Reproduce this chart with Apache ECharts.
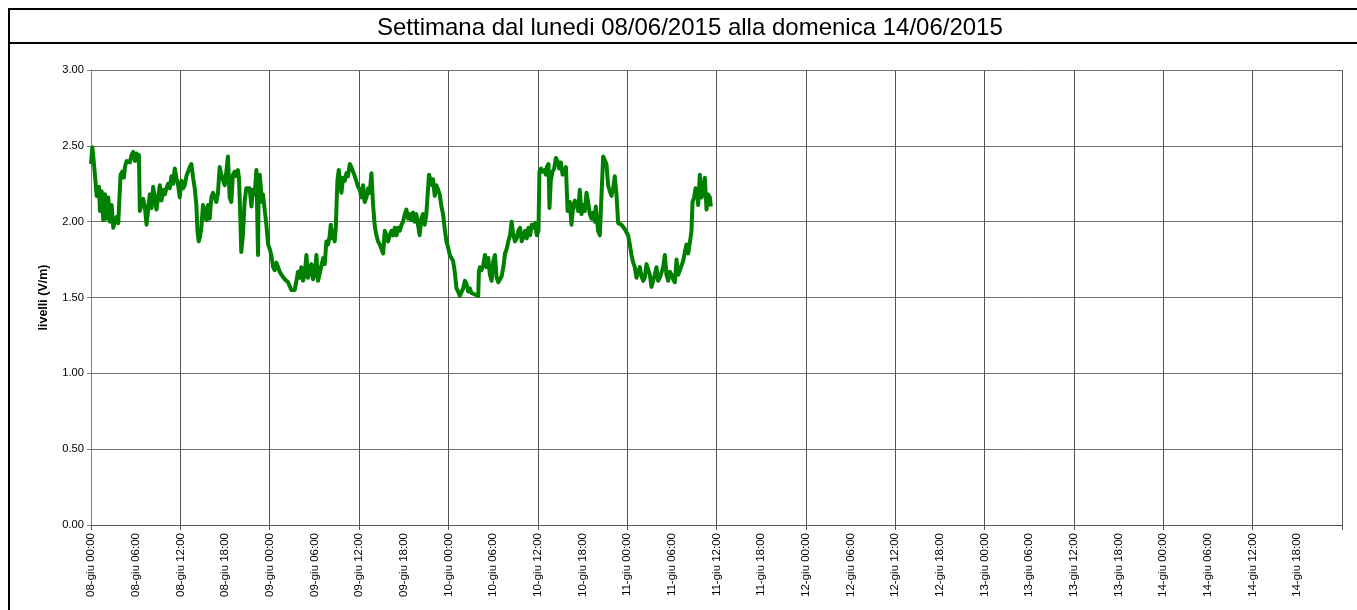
<!DOCTYPE html>
<html>
<head>
<meta charset="utf-8">
<script src="https://cdn.jsdelivr.net/npm/echarts@6/dist/echarts.min.js"></script>
<style>
  html, body { margin: 0; padding: 0; background: #fff; }
  #chart { width: 1357px; height: 610px; }
</style>
</head>
<body>
<div id="chart"></div>
<script>
// ore trascorse dal lunedi 08/06/2015 00:00
const ore = [
  0.00, 0.18, 0.36, 0.54, 0.76, 1.07, 1.21, 1.43, 1.65, 1.88, 2.10, 2.32, 2.54, 2.77, 2.99, 3.21, 3.44, 3.66, 3.88, 3.97,
  4.20, 4.42, 4.55, 4.78, 5.00, 5.22, 5.45, 5.67, 5.89, 6.12, 6.34, 6.43, 6.56, 6.79, 7.01, 7.23, 7.46, 7.68, 7.90, 8.13,
  8.35, 8.57, 8.79, 9.02, 9.24, 9.46, 9.69, 9.91, 10.13, 10.36, 10.58, 10.80, 11.03, 11.25, 11.47, 11.70, 11.92, 12.14, 12.37, 12.59,
  12.81, 13.04, 13.26, 13.48, 13.71, 13.93, 14.15, 14.29, 14.46, 14.64, 14.82, 15.04, 15.27, 15.49, 15.71, 15.94, 16.16, 16.38, 16.61, 16.83,
  17.05, 17.28, 17.50, 17.72, 17.95, 18.17, 18.39, 18.62, 18.84, 19.06, 19.29, 19.51, 19.73, 19.87, 20.04, 20.18, 20.40, 20.63, 20.85, 21.07,
  21.31, 21.54, 21.76, 21.98, 22.21, 22.34, 22.43, 22.52, 22.66, 22.88, 22.97, 23.10, 23.33, 23.55, 23.78, 24.00, 24.22, 24.45, 24.67, 24.90,
  25.12, 25.34, 25.57, 25.79, 26.02, 26.24, 26.46, 26.69, 26.91, 27.13, 27.36, 27.58, 27.81, 28.03, 28.25, 28.48, 28.70, 28.93, 29.15, 29.37,
  29.60, 29.82, 30.05, 30.27, 30.49, 30.72, 30.94, 31.17, 31.39, 31.61, 31.84, 32.06, 32.20, 32.37, 32.51, 32.73, 32.87, 33.09, 33.27, 33.49,
  33.63, 33.85, 34.08, 34.30, 34.52, 34.75, 34.97, 35.20, 35.42, 35.64, 35.87, 36.09, 36.32, 36.54, 36.76, 36.99, 37.21, 37.43, 37.66, 37.88,
  38.11, 38.33, 38.55, 38.78, 39.00, 39.23, 39.45, 39.67, 39.90, 40.12, 40.35, 40.57, 40.79, 41.02, 41.24, 41.47, 41.69, 41.91, 42.14, 42.36,
  42.59, 42.81, 43.01, 43.24, 43.46, 43.69, 43.91, 44.13, 44.36, 44.58, 44.81, 45.03, 45.26, 45.39, 45.62, 45.80, 45.93, 46.16, 46.38, 46.61,
  46.83, 47.06, 47.28, 47.51, 47.73, 47.96, 48.18, 48.40, 48.63, 48.85, 49.08, 49.30, 49.53, 49.75, 49.98, 50.20, 50.43, 50.65, 50.88, 51.10,
  51.33, 51.55, 51.78, 52.00, 52.09, 52.22, 52.45, 52.67, 52.90, 53.12, 53.35, 53.57, 53.80, 54.02, 54.25, 54.47, 54.70, 54.92, 55.15, 55.37,
  55.60, 55.82, 56.04, 56.27, 56.49, 56.72, 56.94, 57.17, 57.39, 57.62, 57.84, 58.07, 58.29, 58.52, 58.74, 58.97, 59.19, 59.42, 59.64, 59.87,
  60.09, 60.22, 60.45, 60.63, 60.90, 61.08, 61.21, 61.44, 61.57, 61.75, 61.98, 62.20, 62.43, 62.65, 62.88, 63.10, 63.33, 63.55, 63.78, 64.00,
  64.16, 64.30, 64.52, 64.75, 64.97, 65.19, 65.42, 65.64, 65.87, 66.09, 66.31, 66.54, 66.76, 66.98, 67.21, 67.43, 67.66, 67.79, 67.97, 68.10,
  68.33, 68.55, 68.78, 69.00, 69.22, 69.45, 69.67, 69.90, 70.12, 70.34, 70.57, 70.79, 71.01, 71.24, 71.46, 71.69, 71.91, 72.13, 72.36, 72.58,
  72.81, 73.03, 73.25, 73.48, 73.70, 73.93, 74.15, 74.37, 74.60, 74.82, 75.05, 75.27, 75.49, 75.72, 75.94, 76.16, 76.39, 76.61, 76.84, 77.06,
  77.28, 77.51, 77.73, 77.96, 78.18, 78.40, 78.63, 78.85, 79.08, 79.30, 79.52, 79.75, 79.97, 80.20, 80.42, 80.64, 80.78, 81.00, 81.18, 81.40,
  81.54, 81.76, 81.99, 82.21, 82.43, 82.66, 82.88, 83.11, 83.24
];

// livelli di campo elettrico (V/m)
const livelli = [
  2.38, 2.49, 2.40, 2.30, 2.17, 2.23, 2.07, 2.20, 2.01, 2.18, 2.02, 2.16, 2.00, 2.11, 1.96, 2.00, 2.03, 1.99, 2.00, 2.31,
  2.33, 2.29, 2.36, 2.40, 2.41, 2.39, 2.44, 2.46, 2.40, 2.45, 2.40, 2.44, 2.07, 2.06, 2.15, 2.10, 1.98, 2.08, 2.18, 2.09,
  2.23, 2.22, 2.08, 2.16, 2.24, 2.14, 2.21, 2.18, 2.22, 2.25, 2.22, 2.30, 2.25, 2.35, 2.29, 2.24, 2.16, 2.27, 2.22, 2.24,
  2.30, 2.29, 2.36, 2.38, 2.29, 2.22, 2.11, 1.94, 1.87, 1.90, 1.96, 2.11, 2.07, 2.01, 2.11, 2.02, 2.16, 2.19, 2.16, 2.13,
  2.19, 2.36, 2.31, 2.30, 2.24, 2.33, 2.43, 2.16, 2.13, 2.31, 2.33, 2.30, 2.34, 2.29, 2.05, 1.80, 1.91, 2.13, 2.22, 2.21,
  2.22, 2.10, 2.21, 2.18, 2.34, 2.35, 1.78, 2.24, 2.31, 2.32, 2.13, 2.18, 2.17, 1.98, 1.85, 1.82, 1.78, 1.70, 1.68, 1.73,
  1.70, 1.67, 1.65, 1.64, 1.62, 1.61, 1.60, 1.59, 1.55, 1.55, 1.55, 1.55, 1.67, 1.63, 1.70, 1.61, 1.65, 1.78, 1.63, 1.67,
  1.72, 1.62, 1.65, 1.78, 1.61, 1.66, 1.65, 1.76, 1.72, 1.87, 1.85, 1.91, 1.98, 1.89, 1.94, 1.87, 1.96, 2.27, 2.34, 2.35,
  2.19, 2.29, 2.27, 2.32, 2.30, 2.38, 2.36, 2.35, 2.30, 2.31, 2.23, 2.21, 2.16, 2.24, 2.13, 2.16, 2.22, 2.19, 2.32, 2.11,
  1.97, 1.91, 1.87, 1.85, 1.82, 1.79, 1.94, 1.91, 1.87, 1.91, 1.94, 1.91, 1.96, 1.91, 1.96, 1.94, 1.98, 2.00, 2.05, 2.08,
  2.02, 2.05, 2.01, 2.06, 2.00, 2.05, 2.04, 1.91, 2.02, 2.05, 1.98, 2.05, 2.06, 2.31, 2.30, 2.24, 2.28, 2.17, 2.24, 2.21,
  2.18, 2.10, 2.05, 1.95, 1.87, 1.83, 1.78, 1.77, 1.74, 1.67, 1.56, 1.54, 1.51, 1.52, 1.56, 1.61, 1.59, 1.54, 1.56, 1.53,
  1.53, 1.52, 1.52, 1.51, 1.67, 1.70, 1.68, 1.71, 1.78, 1.70, 1.76, 1.65, 1.61, 1.74, 1.78, 1.63, 1.60, 1.61, 1.64, 1.70,
  1.79, 1.82, 1.87, 1.91, 2.00, 1.91, 1.87, 1.89, 1.94, 1.96, 1.87, 1.90, 1.94, 1.89, 1.96, 1.91, 1.98, 1.96, 1.99, 1.91,
  1.94, 2.33, 2.35, 2.33, 2.34, 2.31, 2.36, 2.38, 2.09, 2.27, 2.33, 2.35, 2.42, 2.40, 2.35, 2.39, 2.31, 2.33, 2.36, 2.07,
  2.11, 2.13, 1.98, 2.10, 2.14, 2.11, 2.07, 2.21, 2.05, 2.11, 2.07, 2.19, 2.13, 2.05, 2.02, 2.06, 2.00, 2.10, 2.00, 1.94,
  1.91, 1.91, 2.43, 2.42, 2.38, 2.24, 2.20, 2.17, 2.22, 2.30, 2.18, 1.99, 1.98, 1.98, 1.97, 1.95, 1.95, 1.91, 1.85, 1.78,
  1.73, 1.70, 1.63, 1.62, 1.70, 1.64, 1.61, 1.63, 1.72, 1.73, 1.65, 1.57, 1.56, 1.65, 1.70, 1.61, 1.63, 1.62, 1.70, 1.78,
  1.65, 1.61, 1.67, 1.65, 1.62, 1.60, 1.75, 1.65, 1.68, 1.71, 1.74, 1.80, 1.85, 1.79, 1.86, 1.94, 2.13, 2.16, 2.22, 2.20,
  2.11, 2.31, 2.16, 2.20, 2.29, 2.08, 2.18, 2.16, 2.10
];

const giornoInizio = 8;   // 08-giu
const oreTotali = 168;    // una settimana

const pad = n => (n < 10 ? '0' : '') + n;
const etichettaOra = h => {
  if (h >= oreTotali) return '';
  const g = giornoInizio + Math.floor(h / 24);
  return pad(g) + '-giu ' + pad(h % 24) + ':00';
};

const font = '"Liberation Sans", Arial, sans-serif';
const chart = echarts.init(document.getElementById('chart'));

chart.setOption({
  animation: false,
  backgroundColor: '#fff',
  title: {
    text: 'Settimana dal lunedi 08/06/2015 alla domenica 14/06/2015',
    left: 377,
    top: 16,
    padding: 0,
    textStyle: { fontFamily: font, fontSize: 24, fontWeight: 'normal', color: '#000' }
  },
  graphic: [
    { type: 'rect', shape: { x: 9, y: 9, width: 1400, height: 700 }, style: { fill: 'none', stroke: '#000', lineWidth: 2 } },
    { type: 'line', shape: { x1: 9, y1: 43, x2: 1400, y2: 43 }, style: { stroke: '#000', lineWidth: 2 } }
  ],
  grid: { left: 91, right: 15, top: 70, bottom: 85, containLabel: false },
  xAxis: [
    {
      type: 'value', position: 'bottom', min: 0, max: oreTotali, interval: 12,
      axisLine: { show: true, lineStyle: { color: '#555', width: 1 } },
      axisTick: { show: true, length: 5, lineStyle: { color: '#555' } },
      axisLabel: { show: false },
      splitLine: { show: true, lineStyle: { color: '#555', width: 1 } }
    },
    {
      type: 'value', position: 'bottom', min: 0, max: oreTotali, interval: 6,
      axisLine: { show: false },
      axisTick: { show: false },
      splitLine: { show: false },
      axisLabel: {
        rotate: 90, margin: 8, fontSize: 11.5, fontFamily: font, color: '#000',
        formatter: etichettaOra
      }
    }
  ],
  yAxis: {
    type: 'value', min: 0, max: 3, interval: 0.5,
    name: 'livelli (V/m)', nameLocation: 'middle', nameGap: 41,
    nameTextStyle: { fontFamily: font, fontSize: 12.5, fontWeight: 'bold', color: '#000' },
    axisLine: { show: true, lineStyle: { color: '#808080', width: 1 } },
    axisTick: { show: true, length: 4, lineStyle: { color: '#808080' } },
    axisLabel: { fontSize: 11.2, fontFamily: font, color: '#000', margin: 7, formatter: v => v.toFixed(2) },
    splitLine: { show: true, lineStyle: { color: '#707070', width: 1 } }
  },
  series: [{
    type: 'line',
    xAxisIndex: 0,
    data: ore.map((h, i) => [h, livelli[i]]),
    showSymbol: false,
    lineStyle: { color: '#008000', width: 4, join: 'round' },
    z: 5
  }]
});
</script>
</body>
</html>
